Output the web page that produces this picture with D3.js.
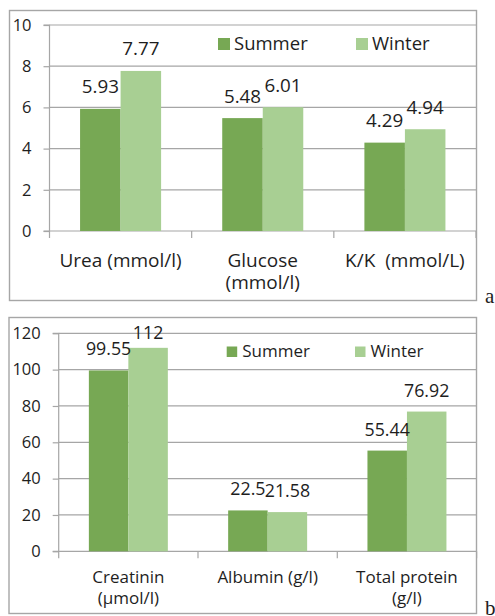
<!DOCTYPE html>
<html>
<head>
<meta charset="utf-8">
<script src="https://cdn.jsdelivr.net/npm/d3@7"></script>
<style>
  body { margin: 0; background: #fff; }
  svg { display: block; font-family: "Open Sans", sans-serif; }
</style>
</head>
<body>
<div id="chart"></div>
<script>
// data
const seriesNames = ["Summer", "Winter"];
const catsA = ["Urea (mmol/l)", "Glucose\n(mmol/l)", "K/K  (mmol/L)"];
const summerA = [5.93, 5.48, 4.29];
const winterA = [7.77, 6.01, 4.94];
const ticksA = [0, 2, 4, 6, 8, 10];

const catsB = ["Creatinin\n(µmol/l)", "Albumin (g/l)", "Total protein\n(g/l)"];
const summerB = [99.55, 22.5, 55.44];
const winterB = [112, 21.58, 76.92];
const ticksB = [0, 20, 40, 60, 80, 100, 120];

const color = d3.scaleOrdinal().domain(seriesNames).range(["#77a854", "#a8cf93"]);
const gray = "#a6a6a6";
const ink = "#1e1e1e";

const svg = d3.select("#chart").append("svg")
  .attr("width", 495)
  .attr("height", 616);

function panel(cfg) {
  const g = svg.append("g");
  const rows = cfg.cats.map((c, i) => ({ cat: c, Summer: cfg.summer[i], Winter: cfg.winter[i] }));

  // frame
  g.append("rect")
    .attr("x", cfg.frame[0] + 0.5).attr("y", cfg.frame[1] + 0.5)
    .attr("width", cfg.frame[2] - cfg.frame[0]).attr("height", cfg.frame[3] - cfg.frame[1])
    .attr("fill", "none").attr("stroke", gray).attr("stroke-width", 1.4);

  const x0 = d3.scaleBand().domain(cfg.cats).range([cfg.l, cfg.r])
    .paddingInner(cfg.pad).paddingOuter(cfg.pad / 2);
  const x1 = d3.scaleBand().domain(seriesNames).range([0, x0.bandwidth()]);
  const y = d3.scaleLinear().domain([0, d3.max(cfg.ticks)]).range([cfg.b, cfg.t]);

  // gridlines
  g.append("g")
    .selectAll("line").data(cfg.ticks.slice(1)).join("line")
    .attr("x1", cfg.l).attr("x2", cfg.r)
    .attr("y1", d => y(d)).attr("y2", d => y(d))
    .attr("stroke", gray).attr("stroke-width", 1.2);

  // y axis
  g.append("g")
    .attr("transform", `translate(${cfg.l},0)`)
    .call(d3.axisLeft(y).tickValues(cfg.ticks).tickSize(6).tickPadding(12))
    .call(a => a.selectAll("line, path").attr("stroke", gray).attr("stroke-width", 1.2))
    .call(a => a.select(".domain").attr("d", `M-6,${cfg.t}H0V${cfg.b}`))
    .call(a => a.selectAll("text").attr("fill", ink)
      .style("font-family", "Open Sans").style("font-size", cfg.tickFont + "px"));

  // x axis with boundary ticks
  const step = x0.step();
  const bounds = cfg.cats.map(c => x0(c) - step * cfg.pad / 2).concat([cfg.r]);
  const xa = g.append("g");
  xa.append("line")
    .attr("x1", cfg.l - 6).attr("x2", cfg.r)
    .attr("y1", cfg.b).attr("y2", cfg.b)
    .attr("stroke", gray).attr("stroke-width", 1.2);
  xa.selectAll(".bt").data(bounds).join("line")
    .attr("class", "bt")
    .attr("x1", d => d).attr("x2", d => d)
    .attr("y1", cfg.b).attr("y2", cfg.b + 7)
    .attr("stroke", gray).attr("stroke-width", 1.2);

  // bars
  const grp = g.append("g").selectAll("g").data(rows).join("g")
    .attr("transform", d => `translate(${x0(d.cat)},0)`);
  grp.selectAll("rect")
    .data(d => seriesNames.map(s => ({ s, v: d[s] })))
    .join("rect")
    .attr("x", d => x1(d.s))
    .attr("width", x1.bandwidth())
    .attr("y", d => y(d.v))
    .attr("height", d => y(0) - y(d.v))
    .attr("fill", d => color(d.s));
  grp.selectAll("text")
    .data(d => seriesNames.map(s => ({ s, v: d[s] })))
    .join("text")
    .attr("x", d => x1(d.s) + x1.bandwidth() / 2)
    .attr("y", d => Math.max(y(d.v) - cfg.labOff, cfg.t + 6))
    .attr("text-anchor", "middle")
    .attr("fill", ink)
    .style("font-size", cfg.font + "px")
    .text(d => String(d.v));

  // category labels
  const cl = g.append("g").selectAll("text").data(cfg.cats).join("text")
    .attr("x", d => x0(d) + x0.bandwidth() / 2)
    .attr("y", cfg.catBase)
    .attr("text-anchor", "middle")
    .attr("fill", ink)
    .style("font-size", cfg.catFont + "px")
    .style("white-space", "pre");
  cl.selectAll("tspan").data(d => d.split("\n")).join("tspan")
    .attr("x", function () { return d3.select(this.parentNode).attr("x"); })
    .attr("dy", (d, i) => i === 0 ? 0 : cfg.lineH)
    .text(d => d);

  // legend
  const lg = g.append("g").selectAll("g").data(seriesNames).join("g")
    .attr("transform", (d, i) => `translate(${cfg.legX[i]},${cfg.legY})`);
  lg.append("rect")
    .attr("width", cfg.legSq).attr("height", cfg.legSq)
    .attr("y", -cfg.legSq)
    .attr("fill", d => color(d));
  lg.append("text")
    .attr("x", cfg.legSq + cfg.legGap)
    .attr("y", 0)
    .attr("fill", ink)
    .style("font-size", cfg.legFont + "px")
    .text(d => d);

  // panel letter
  svg.append("text")
    .attr("x", cfg.letter[0]).attr("y", cfg.letter[1])
    .attr("fill", ink)
    .style("font-family", "'Liberation Serif', serif")
    .style("font-size", "21px")
    .text(cfg.letterText);
}

panel({
  cats: catsA, summer: summerA, winter: winterA, ticks: ticksA,
  frame: [9, 10, 476, 300],
  l: 49.5, r: 476, t: 25, b: 231, pad: 0.43,
  font: 18.8, catFont: 19, legFont: 18.5, tickFont: 16.5, labOff: 15.5,
  catBase: 267, lineH: 22,
  legX: [218, 356], legY: 50, legSq: 12, legGap: 4,
  letter: [485, 303], letterText: "a"
});

panel({
  cats: catsB, summer: summerB, winter: winterB, ticks: ticksB,
  frame: [8.5, 317, 476, 613],
  l: 58.7, r: 476.6, t: 333.3, b: 551.3, pad: 0.433,
  font: 17.8, catFont: 17, legFont: 17, tickFont: 16.5, labOff: 15,
  catBase: 583, lineH: 21,
  legX: [226.7, 355], legY: 357, legSq: 10.5, legGap: 5,
  letter: [485, 615], letterText: "b"
});
</script>
</body>
</html>
